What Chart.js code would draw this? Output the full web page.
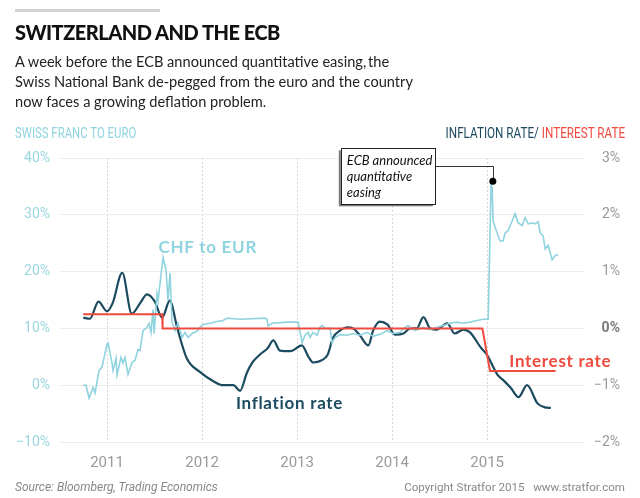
<!DOCTYPE html>
<html>
<head>
<meta charset="utf-8">
<script src="https://cdn.jsdelivr.net/npm/chart.js@4.4.1/dist/chart.umd.min.js"></script>
<style>
  body { margin: 0; background: #fff; }
  #wrap { position: relative; width: 640px; height: 498px; overflow: hidden; background: #fff; }
  #wrap canvas { position: absolute; left: 0; top: 0; }
  .txt { position: absolute; white-space: nowrap; font-family: Lato, 'Open Sans', sans-serif; }
  .bar { position: absolute; left: 15px; top: 9px; width: 145px; height: 3px; background: #d2d2d2; }
  .title { left: 15px; top: 20px; font-size: 20px; line-height: 24px; font-weight: 900; letter-spacing: -0.5px; color: #111; }
  .sub { left: 15px; top: 52px; font-size: 14.6px; line-height: 20px; color: #222; }
  .axl { left: 15px; top: 125px; font-size: 15px; line-height: 16px; color: #8fd3de; font-family: Roboto, sans-serif; transform: scaleX(0.76); transform-origin: left center; }
  .axr { right: 15px; top: 125px; font-size: 15px; line-height: 16px; font-family: Roboto, sans-serif; transform: scaleX(0.78); transform-origin: right center; }
  .src { left: 15px; top: 480px; font-size: 12px; line-height: 14px; font-style: italic; color: #888; font-family: Roboto, sans-serif; }
  .copy { right: 15px; top: 480px; font-size: 11.6px; line-height: 14px; color: #888; font-family: Roboto, sans-serif; }
</style>
</head>
<body>
<div id="wrap">
  <canvas id="chart" width="640" height="498"></canvas>
  <div class="bar"></div>
  <div class="txt title">SWITZERLAND AND THE ECB</div>
  <div class="txt sub">A week before the ECB announced quantitative easing,&#8201;the<br>Swiss National Bank de-pegged from the euro and the country<br>now faces a growing deflation problem.</div>
  <div class="txt axl">SWISS FRANC TO EURO</div>
  <div class="txt axr"><span style="color:#1c4b60">INFLATION RATE/</span> <span style="color:#f0493e">INTEREST RATE</span></div>
  <div class="txt src">Source: Bloomberg, Trading Economics</div>
  <div class="txt copy">Copyright Stratfor 2015&nbsp;&nbsp;&nbsp;www.stratfor.com</div>
</div>
<script>
const YEAR_TICKS = [2011, 2012, 2013, 2014, 2015];
const CHF_TICKS = [-10, 0, 10, 20, 30, 40];
const RATE_TICKS = [-2, -1, 0, 1, 2, 3];

// [decimal year, % change]
const CHF_TO_EUR = [
  [2010.747, 0.0], [2010.779, 0.0], [2010.811, -2.3], [2010.853, -0.4], [2010.874, -1.4],
  [2010.916, 2.6], [2010.947, 3.2], [2011.0, 7.2], [2011.011, 7.4], [2011.053, 3.9],
  [2011.063, 2.6], [2011.095, 4.7], [2011.105, 1.8], [2011.147, 4.9], [2011.168, 3.9],
  [2011.189, 4.9], [2011.221, 1.9], [2011.263, 4.0], [2011.295, 4.4], [2011.326, 6.3],
  [2011.347, 6.1], [2011.379, 9.6], [2011.421, 10.2], [2011.442, 10.9], [2011.463, 9.3],
  [2011.484, 13.3], [2011.495, 9.1], [2011.526, 16.1], [2011.537, 14.9], [2011.589, 22.5],
  [2011.621, 20.2], [2011.642, 14.9], [2011.663, 19.8], [2011.684, 11.1], [2011.716, 9.6],
  [2011.747, 10.9], [2011.789, 8.4], [2011.821, 9.3], [2011.853, 8.4], [2011.895, 9.1],
  [2011.947, 9.5], [2011.979, 10.2], [2012.011, 10.7], [2012.084, 10.9], [2012.158, 11.2],
  [2012.221, 11.4], [2012.263, 11.8], [2012.4, 11.6], [2012.663, 11.8], [2012.684, 11.6],
  [2012.695, 10.4], [2012.737, 10.9], [2012.895, 11.1], [2013.011, 11.1], [2013.032, 9.3],
  [2013.053, 7.5], [2013.084, 8.8], [2013.116, 9.3], [2013.137, 8.4], [2013.168, 9.3],
  [2013.211, 8.8], [2013.242, 10.2], [2013.263, 10.5], [2013.295, 10.0], [2013.347, 10.0],
  [2013.368, 7.5], [2013.4, 8.4], [2013.453, 8.9], [2013.526, 8.8], [2013.589, 9.1],
  [2013.663, 8.8], [2013.737, 9.3], [2013.8, 8.6], [2013.895, 9.1], [2013.947, 9.6],
  [2014.011, 9.1], [2014.084, 9.3], [2014.137, 10.2], [2014.168, 10.5], [2014.242, 9.6],
  [2014.326, 10.2], [2014.4, 9.8], [2014.474, 10.2], [2014.537, 10.5], [2014.611, 10.9],
  [2014.684, 11.1], [2014.747, 10.9], [2014.821, 11.1], [2014.895, 11.4], [2014.958, 11.6],
  [2015.011, 11.6], [2015.042, 35.3], [2015.053, 34.7], [2015.063, 28.9], [2015.105, 26.8],
  [2015.137, 25.4], [2015.168, 25.4], [2015.189, 26.8], [2015.221, 27.2], [2015.263, 28.9],
  [2015.295, 30.2], [2015.326, 28.6], [2015.368, 28.1], [2015.4, 29.5], [2015.432, 28.4],
  [2015.474, 28.6], [2015.505, 28.4], [2015.537, 28.8], [2015.558, 26.8], [2015.589, 26.3],
  [2015.611, 24.0], [2015.642, 24.6], [2015.684, 22.1], [2015.716, 22.8], [2015.747, 23.0]
];

const INFLATION = [
  [2010.75, 0.19], [2010.82, 0.17], [2010.91, 0.47], [2011.0, 0.30], [2011.06, 0.45],
  [2011.16, 0.98], [2011.26, 0.26], [2011.35, 0.45], [2011.42, 0.60], [2011.5, 0.48],
  [2011.58, 0.19], [2011.66, 0.49], [2011.74, 0.0], [2011.84, -0.53], [2011.98, -0.77],
  [2012.12, -0.93], [2012.22, -1.0], [2012.33, -1.0], [2012.4, -1.1], [2012.47, -0.79],
  [2012.53, -0.6], [2012.61, -0.46], [2012.69, -0.35], [2012.75, -0.21], [2012.82, -0.39],
  [2012.93, -0.40], [2013.05, -0.30], [2013.12, -0.5], [2013.17, -0.6], [2013.26, -0.56],
  [2013.32, -0.47], [2013.38, -0.16], [2013.45, -0.04], [2013.53, 0.02], [2013.59, 0.0],
  [2013.66, -0.12], [2013.75, -0.3], [2013.8, -0.04], [2013.87, 0.12], [2013.95, 0.07],
  [2014.03, -0.11], [2014.12, -0.09], [2014.19, 0.0], [2014.26, 0.0], [2014.33, 0.2],
  [2014.4, 0.0], [2014.47, -0.02], [2014.58, 0.09], [2014.66, -0.09], [2014.75, -0.02],
  [2014.82, -0.07], [2014.93, -0.33], [2015.0, -0.47], [2015.11, -0.82], [2015.17, -0.91],
  [2015.25, -1.05], [2015.33, -1.21], [2015.42, -1.0], [2015.53, -1.32], [2015.61, -1.39],
  [2015.67, -1.40]
];

const INTEREST = [
  [2010.75, 0.25], [2011.58, 0.25], [2011.585, 0.0], [2014.95, 0.0], [2015.03, -0.75], [2015.72, -0.75]
];

const SERIES_LABELS = [
  { text: 'CHF to EUR', x: 2012.06, y: 24.2, axis: 'y', color: '#8fd3de' },
  { text: 'Inflation rate', x: 2012.92, y: -1.33, axis: 'y2', color: '#1c4b60' },
  { text: 'Interest rate', x: 2015.77, y: -0.58, axis: 'y2', color: '#f0493e' }
];

const ANNOTATION = { x: 2015.06, y: 35.9, lines: ['ECB announced', 'quantitative', 'easing'] };

const COLORS = {
  chf: '#8fd3de',
  chfTick: '#9ad6df',
  inflation: '#1c4b60',
  interest: '#f0493e',
  grid: '#ececec',
  xGrid: '#d6d6d6',
  gray: '#9a9a9a'
};

const TICK_FONT = 'Roboto, sans-serif';

const toPoints = (rows) => rows.map(([x, y]) => ({ x, y }));
const pct = (v) => (v < 0 ? '\u2212' + Math.abs(v) : String(v)) + '%';

const overlayPlugin = {
  id: 'overlay',
  afterDatasetsDraw(chart) {
    const { ctx, scales } = chart;
    ctx.save();
    ctx.font = "bold 17px Lato, 'Open Sans', sans-serif";
    ctx.letterSpacing = '0.7px';
    ctx.textAlign = 'center';
    ctx.textBaseline = 'middle';
    SERIES_LABELS.forEach((label) => {
      ctx.fillStyle = label.color;
      ctx.fillText(label.text, scales.x.getPixelForValue(label.x), scales[label.axis].getPixelForValue(label.y));
    });
    ctx.letterSpacing = '0px';

    // ECB annotation: dot, leader line, boxed note
    const dx = scales.x.getPixelForValue(ANNOTATION.x);
    const dy = scales.y.getPixelForValue(ANNOTATION.y);
    const boxW = 94;
    const boxH = 56;
    const boxR = dx - 58;
    const boxT = dy - 33;
    const boxL = boxR - boxW;

    ctx.strokeStyle = '#333';
    ctx.lineWidth = 1;
    ctx.beginPath();
    ctx.moveTo(boxR, Math.round(dy - 15) + 0.5);
    ctx.lineTo(Math.round(dx) + 0.5, Math.round(dy - 15) + 0.5);
    ctx.lineTo(Math.round(dx) + 0.5, dy);
    ctx.stroke();

    ctx.fillStyle = '#777';
    ctx.fillRect(boxL - 2, boxT + 2, boxW, boxH);
    ctx.fillStyle = '#fff';
    ctx.fillRect(boxL, boxT, boxW, boxH);
    ctx.strokeStyle = '#222';
    ctx.strokeRect(Math.round(boxL) + 0.5, Math.round(boxT) + 0.5, boxW, boxH);

    ctx.fillStyle = '#111';
    ctx.font = "italic 13px Lato, 'Open Sans', sans-serif";
    ctx.textAlign = 'left';
    ANNOTATION.lines.forEach((line, i) => {
      ctx.fillText(line, boxL + 6, boxT + 13 + i * 16);
    });

    ctx.fillStyle = '#000';
    ctx.beginPath();
    ctx.arc(dx, dy, 3.5, 0, Math.PI * 2);
    ctx.fill();
    ctx.restore();
  }
};

new Chart(document.getElementById('chart').getContext('2d'), {
  type: 'line',
  data: {
    datasets: [
      {
        label: 'Interest rate',
        data: toPoints(INTEREST),
        yAxisID: 'y2',
        borderColor: COLORS.interest,
        borderWidth: 2,
        pointRadius: 0,
        tension: 0
      },
      {
        label: 'CHF to EUR',
        data: toPoints(CHF_TO_EUR),
        yAxisID: 'y',
        borderColor: COLORS.chf,
        borderWidth: 1.6,
        pointRadius: 0,
        tension: 0
      },
      {
        label: 'Inflation rate',
        data: toPoints(INFLATION),
        yAxisID: 'y2',
        borderColor: COLORS.inflation,
        borderWidth: 2.2,
        pointRadius: 0,
        cubicInterpolationMode: 'monotone'
      }
    ]
  },
  options: {
    responsive: false,
    animation: false,
    devicePixelRatio: 1,
    parsing: false,
    layout: { padding: { top: 158, right: 20, bottom: 0, left: 0 } },
    plugins: { legend: { display: false }, tooltip: { enabled: false } },
    scales: {
      x: {
        type: 'linear',
        min: 2010.505,
        max: 2016.03,
        afterFit: (scale) => { scale.height = 56; },
        afterBuildTicks: (scale) => { scale.ticks = YEAR_TICKS.map((value) => ({ value })); },
        grid: { color: COLORS.xGrid, drawTicks: false, lineWidth: 1 },
        border: { display: false, dash: [2, 2] },
        ticks: {
          padding: 12,
          color: COLORS.gray,
          font: { size: 15, family: TICK_FONT },
          callback: (value) => String(value)
        }
      },
      y: {
        position: 'left',
        min: -10,
        max: 40,
        afterFit: (scale) => { scale.width = 60; },
        afterBuildTicks: (scale) => { scale.ticks = CHF_TICKS.map((value) => ({ value })); },
        grid: { color: COLORS.grid, drawTicks: false },
        border: { display: false },
        ticks: {
          padding: 10,
          color: COLORS.chfTick,
          font: { size: 14, family: TICK_FONT },
          callback: (value) => pct(value)
        }
      },
      y2: {
        position: 'right',
        min: -2,
        max: 3,
        afterFit: (scale) => { scale.width = 35; },
        afterBuildTicks: (scale) => { scale.ticks = RATE_TICKS.map((value) => ({ value })); },
        grid: { drawOnChartArea: false, drawTicks: false },
        border: { display: false },
        ticks: {
          padding: 0,
          crossAlign: 'far',
          color: (ctx) => (ctx.tick && ctx.tick.value === 0 ? '#7a7a7a' : COLORS.gray),
          font: (ctx) => ({ size: 14, family: TICK_FONT, weight: ctx.tick && ctx.tick.value === 0 ? 'bold' : 'normal' }),
          callback: (value) => pct(value)
        }
      }
    }
  },
  plugins: [overlayPlugin]
});
</script>
</body>
</html>
